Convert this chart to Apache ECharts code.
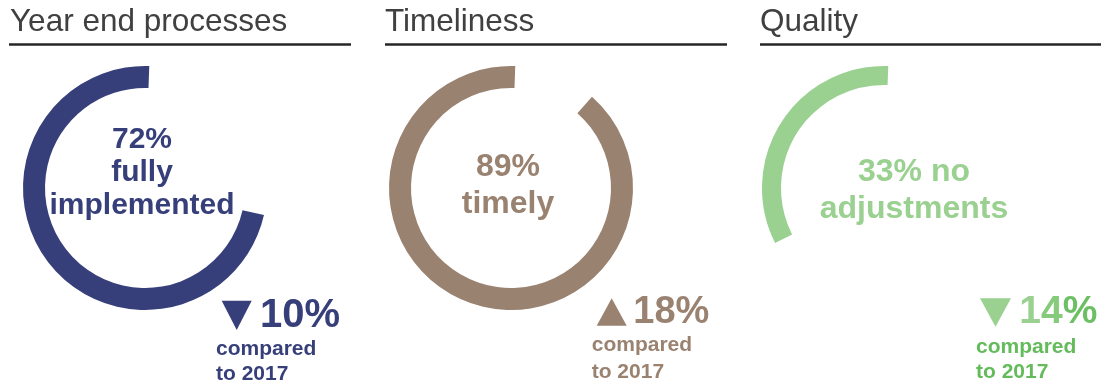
<!DOCTYPE html>
<html>
<head>
<meta charset="utf-8">
<script src="https://cdn.jsdelivr.net/npm/echarts@6/dist/echarts.min.js"></script>
<style>
html,body{margin:0;padding:0;background:#fff;}
#chart{width:1102px;height:387px;}
</style>
</head>
<body>
<div id="chart"></div>
<script>
// ---- data ----
const panelTitles = ['Year end processes', 'Timeliness', 'Quality'];
const percentValues = [72, 89, 33];
const centerLabelTemplates = ['{v}%\nfully\nimplemented', '{v}%\ntimely', '{v}% no\nadjustments'];
const changeValues = [10, 18, 14];
const changeDirections = ['down', 'up', 'down'];
const comparisonYear = 2017;

// ---- styling ----
const ringColors = ['#363f7a', '#9a8271', '#9ad191'];
const compareColors = ['#363f7a', '#9a8271', '#63bb5a'];
const FONT = '"Liberation Sans", Arial, Helvetica, sans-serif';

const panels = [
  { cx: 145, cy: 188, rIn: 100, rOut: 122,
    title: { x: 10, y: 22.5 }, rule: [9, 351],
    center: { x: 142, y: 172.5, size: 30, lh: 33 },
    tri: { x: 221.7, w: 30, top: 300.7, h: 29.3 },
    num: { x: 260, y: 316, size: 40 },
    cmp: { x: 216, y: 362, size: 21, lh: 24.7 } },
  { cx: 511, cy: 188, rIn: 100, rOut: 122,
    title: { x: 385, y: 22.5 }, rule: [385, 727],
    center: { x: 508, y: 185.3, size: 32, lh: 37 },
    tri: { x: 596.7, w: 30, top: 298.3, h: 27.4 },
    num: { x: 633.3, y: 312.4, size: 38 },
    cmp: { x: 591.7, y: 358.5, size: 21, lh: 27 } },
  { cx: 884, cy: 188, rIn: 103, rOut: 122,
    title: { x: 760, y: 22.5 }, rule: [760, 1101],
    center: { x: 914, y: 191, size: 32, lh: 36.7 },
    tri: { x: 980, w: 31, top: 298.3, h: 28.4 },
    num: { x: 1019.3, y: 312.6, size: 39 },
    cmp: { x: 976, y: 360, size: 21, lh: 25 } }
];

const chart = echarts.init(document.getElementById('chart'), null, { renderer: 'canvas' });

const series = percentValues.map((v, i) => {
  const p = panels[i];
  return {
    type: 'pie',
    center: [p.cx, p.cy],
    radius: [p.rIn, p.rOut],
    startAngle: 88,
    clockwise: false,
    silent: true,
    label: { show: false },
    labelLine: { show: false },
    emphasis: { disabled: true },
    itemStyle: { borderWidth: 0 },
    data: [
      { name: panelTitles[i], value: v, itemStyle: { color: ringColors[i] } },
      { name: 'rest', value: 100 - v, itemStyle: { color: 'rgba(0,0,0,0)' } }
    ]
  };
});

const graphics = [];
panels.forEach((p, i) => {
  // title
  graphics.push({
    type: 'text', silent: true,
    style: { text: panelTitles[i], x: p.title.x, y: p.title.y, font: '31.5px ' + FONT,
      fill: '#404040', align: 'left', verticalAlign: 'middle' }
  });
  // underline
  graphics.push({
    type: 'line', silent: true,
    shape: { x1: p.rule[0], y1: 44.5, x2: p.rule[1], y2: 44.5 },
    style: { stroke: '#262626', lineWidth: 2.5 }
  });
  // center label
  graphics.push({
    type: 'text', silent: true,
    style: { text: centerLabelTemplates[i].replace('{v}', percentValues[i]),
      x: p.center.x, y: p.center.y, font: 'bold ' + p.center.size + 'px ' + FONT,
      lineHeight: p.center.lh, fill: ringColors[i], align: 'center', verticalAlign: 'middle' }
  });
  // triangle
  const t = p.tri;
  const pts = changeDirections[i] === 'down'
    ? [[t.x, t.top], [t.x + t.w, t.top], [t.x + t.w / 2, t.top + t.h]]
    : [[t.x, t.top + t.h], [t.x + t.w, t.top + t.h], [t.x + t.w / 2, t.top]];
  graphics.push({
    type: 'polygon', silent: true,
    shape: { points: pts },
    style: { fill: ringColors[i] }
  });
  // change number
  const numText = changeValues[i] + '%';
  if (i === 2) {
    const chars = numText.split('');
    const cols = ['#9ad191', '#86ca7c', '#6cbf63'];
    graphics.push({
      type: 'text', silent: true,
      style: { text: chars.map((c, k) => '{c' + k + '|' + c + '}').join(''),
        x: p.num.x, y: p.num.y, font: 'bold ' + p.num.size + 'px ' + FONT,
        align: 'left', verticalAlign: 'middle',
        rich: Object.fromEntries(chars.map((c, k) => ['c' + k,
          { fill: cols[Math.min(k, cols.length - 1)], font: 'bold ' + p.num.size + 'px ' + FONT }])) }
    });
  } else {
    graphics.push({
      type: 'text', silent: true,
      style: { text: numText, x: p.num.x, y: p.num.y, font: 'bold ' + p.num.size + 'px ' + FONT,
        fill: ringColors[i], align: 'left', verticalAlign: 'middle' }
    });
  }
  // compared to
  graphics.push({
    type: 'text', silent: true,
    style: { text: 'compared\nto ' + comparisonYear, x: p.cmp.x, y: p.cmp.y,
      font: 'bold ' + p.cmp.size + 'px ' + FONT, lineHeight: p.cmp.lh,
      fill: compareColors[i], align: 'left', verticalAlign: 'middle' }
  });
});

chart.setOption({
  animation: false,
  backgroundColor: '#ffffff',
  series: series,
  graphic: graphics
});
</script>
</body>
</html>
